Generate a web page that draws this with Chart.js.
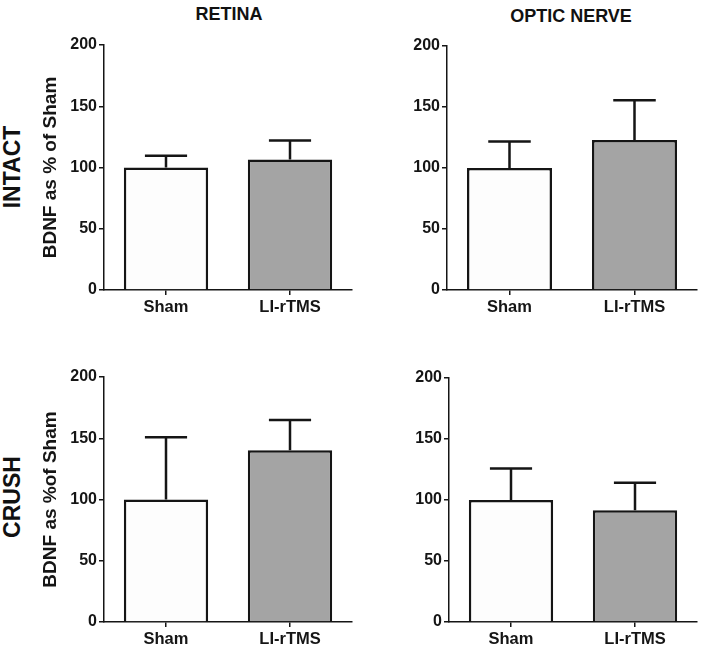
<!DOCTYPE html>
<html>
<head>
<meta charset="utf-8">
<script src="https://cdn.jsdelivr.net/npm/chart.js@4.4.1/dist/chart.umd.min.js"></script>
<style>
  body { margin: 0; background: #fff; }
  #wrap { position: relative; width: 705px; height: 649px; font-family: 'Liberation Sans', Arial, sans-serif; }
  canvas { position: absolute; }
  .lbl { position: absolute; font-weight: bold; color: #111; white-space: nowrap; }
  .col { font-size: 18px; transform: translate(-50%, -50%); }
  .row { font-size: 23px; transform: translate(-50%, -50%) rotate(-90deg); }
</style>
</head>
<body>
<div id="wrap">
  <div class="lbl col" style="left:229px; top:14px;">RETINA</div>
  <div class="lbl col" style="left:571px; top:16px;">OPTIC NERVE</div>
  <div class="lbl row" style="left:12px; top:167px;">INTACT</div>
  <div class="lbl row" style="left:12px; top:497px;">CRUSH</div>
  <canvas id="c1" width="355" height="320" style="left:0; top:0;"></canvas>
  <canvas id="c2" width="350" height="320" style="left:355px; top:0;"></canvas>
  <canvas id="c3" width="355" height="329" style="left:0; top:320px;"></canvas>
  <canvas id="c4" width="350" height="329" style="left:355px; top:320px;"></canvas>
</div>
<script>
// groups on the x axis
const groups = ['Sham', 'LI-rTMS'];
const yTicks = [0, 50, 100, 150, 200];

// BDNF as % of sham, mean and SEM (only upper bar drawn)
const intactRetina = [100, 106.5];
const intactRetinaErr = [9.5, 15.5];
const intactNerve = [100, 123];
const intactNerveErr = [21.7, 32.5];
const crushRetina = [100, 140.2];
const crushRetinaErr = [50.8, 24.8];
const crushNerve = [100, 91.5];
const crushNerveErr = [25.8, 22.7];

const ink = '#151515';
const fontFam = "'Liberation Sans', Arial, sans-serif";

// draws the upward error bar with a cap above each bar
const errorBars = {
    id: 'errorBars',
    afterDatasetsDraw(chart) {
        let ctx = chart.ctx;
        let yScale = chart.scales.y;
        let ds = chart.data.datasets[0];
        let meta = chart.getDatasetMeta(0);
        ctx.save();
        ctx.strokeStyle = ink;
        ctx.lineWidth = 2.5;
        meta.data.forEach((bar, i) => {
            let top = yScale.getPixelForValue(ds.data[i]);
            let end = yScale.getPixelForValue(ds.data[i] + ds.errors[i]);
            let half = bar.width / 4;
            ctx.beginPath();
            ctx.moveTo(bar.x, top);
            ctx.lineTo(bar.x, end);
            ctx.moveTo(bar.x - half, end);
            ctx.lineTo(bar.x + half, end);
            ctx.stroke();
        });
        ctx.restore();
    }
};

function makePanel(id, values, errs, opts) {
    let ctx = document.getElementById(id).getContext('2d');
    return new Chart(ctx, {
        type: 'bar',
        data: {
            labels: groups,
            datasets: [{
                data: values,
                errors: errs,
                backgroundColor: ['#fdfdfd', '#a4a4a4'],
                borderColor: ink,
                borderWidth: 2.5,
                borderSkipped: 'bottom',
                barPercentage: 0.68,
                categoryPercentage: 1.0
            }]
        },
        options: {
            responsive: false,
            animation: false,
            layout: { padding: { top: opts.top, right: opts.right, left: 0, bottom: 0 } },
            plugins: { legend: { display: false }, tooltip: { enabled: false } },
            scales: {
                x: {
                    grid: { offset: false, drawOnChartArea: false, drawTicks: true, tickLength: 5, color: ink, lineWidth: 1.5 },
                    border: { display: true, color: ink, width: 1.5 },
                    ticks: { color: ink, padding: 3, font: { family: fontFam, size: 16.5, weight: 'bold' } },
                    afterFit(scale) { scale.height = opts.xh; }
                },
                y: {
                    min: 0,
                    max: 200,
                    afterBuildTicks(scale) { scale.ticks = yTicks.map(v => ({ value: v })); },
                    grid: { drawOnChartArea: false, drawTicks: true, tickLength: 5, color: ink, lineWidth: 1.5 },
                    border: { display: true, color: ink, width: 1.5 },
                    ticks: { color: ink, padding: 2, font: { family: fontFam, size: 16, weight: 'bold' } },
                    title: {
                        display: !!opts.title,
                        text: opts.title || '',
                        color: ink,
                        padding: { top: 39, bottom: 0 },
                        font: { family: fontFam, size: 19, weight: 'bold' }
                    },
                    afterFit(scale) { scale.width = opts.yw; }
                }
            }
        },
        plugins: [errorBars]
    });
}

makePanel('c1', intactRetina, intactRetinaErr, { top: 45, right: 3, xh: 30, yw: 104, title: 'BDNF as % of Sham' });
makePanel('c2', intactNerve, intactNerveErr, { top: 46, right: 8, xh: 30, yw: 92 });
makePanel('c3', crushRetina, crushRetinaErr, { top: 57, right: 3, xh: 27, yw: 104, title: 'BDNF as %of Sham' });
makePanel('c4', crushNerve, crushNerveErr, { top: 58, right: 8, xh: 27, yw: 94 });
</script>
</body>
</html>
